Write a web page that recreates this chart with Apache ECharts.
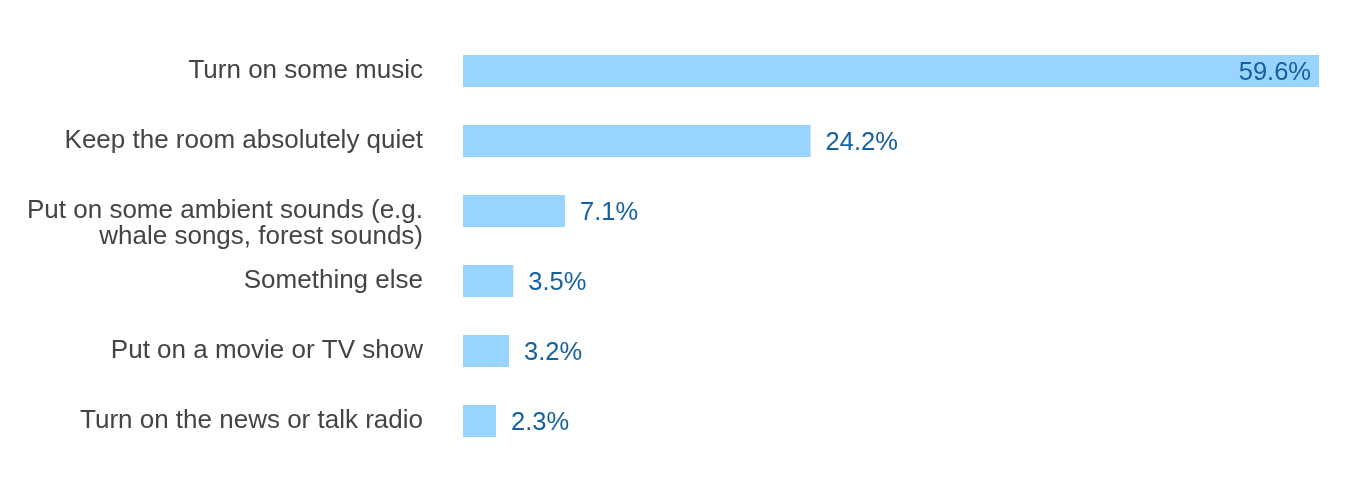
<!DOCTYPE html>
<html><head><meta charset="utf-8">
<script src="https://cdn.jsdelivr.net/npm/echarts@6/dist/echarts.min.js"></script>
<style>html,body{margin:0;padding:0;background:#fff}#c{width:1362px;height:488px}</style>
</head><body><div id="c"></div>
<script>
const categories = [
  "Turn on some music",
  "Keep the room absolutely quiet",
  "Put on some ambient sounds (e.g.\nwhale songs, forest sounds)",
  "Something else",
  "Put on a movie or TV show",
  "Turn on the news or talk radio"
];
const values = [59.6, 24.2, 7.1, 3.5, 3.2, 2.3];

const FONT = '"Liberation Sans", Arial, Helvetica, sans-serif';
const chart = echarts.init(document.getElementById('c'), null, {renderer: 'canvas'});
const data = values.map((v, i) => ({
  value: v,
  label: i === 0
    ? {position: 'insideRight', distance: 8}
    : {position: 'right', distance: 15}
}));
chart.setOption({
  animation: false,
  grid: {left: 463, right: 43, top: 36, bottom: 32, containLabel: false},
  xAxis: {type: 'value', min: 0, max: 59.6, show: false},
  yAxis: {
    type: 'category', data: categories, inverse: true,
    axisLine: {show: false}, axisTick: {show: false},
    axisLabel: {
      margin: 40, color: '#444444', fontSize: 26, lineHeight: 26,
      fontFamily: FONT, align: 'right',
      formatter: s => s.indexOf('\n') >= 0 ? '\n' + s : s
    }
  },
  series: [{
    type: 'bar', data: data, barWidth: 32,
    itemStyle: {color: '#99d3ff'},
    label: {
      show: true, color: '#15609f', fontSize: 25.5,
      fontFamily: FONT,
      formatter: p => p.value.toFixed(1) + '%', offset: [0, 2]
    }
  }]
});
</script></body></html>
